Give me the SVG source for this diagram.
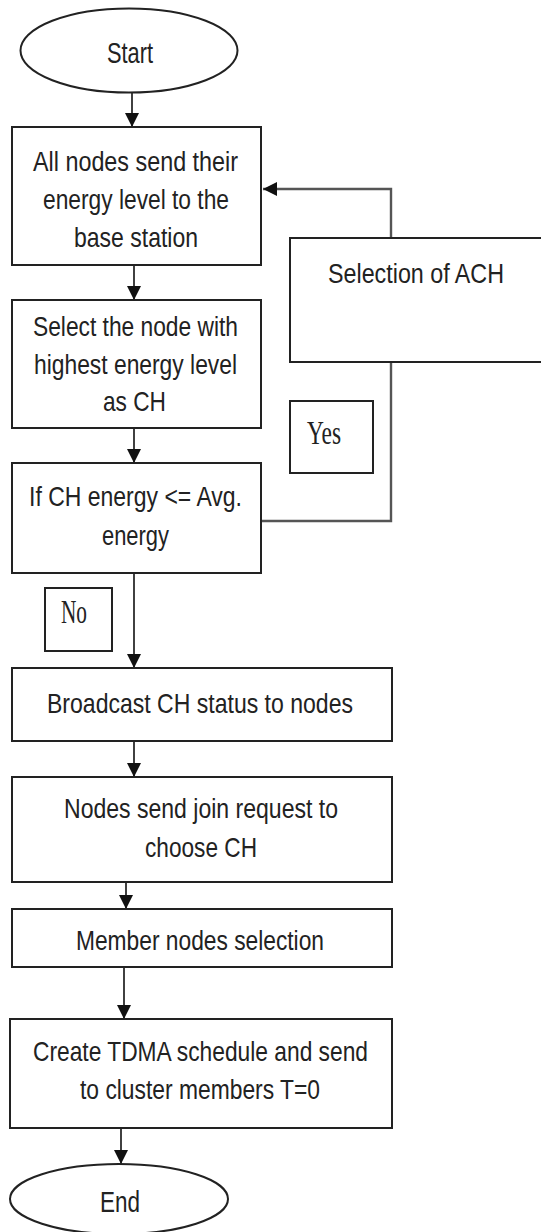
<svg xmlns="http://www.w3.org/2000/svg" width="541" height="1232" viewBox="0 0 541 1232">
<defs>
<marker id="ah" markerUnits="userSpaceOnUse" markerWidth="14" markerHeight="14" viewBox="0 0 14 14" refX="14" refY="7" orient="auto">
<path d="M0,0 L14,7 L0,14 Z" fill="#111"/>
</marker>
</defs>
<style>
.box{fill:#fff;stroke:#222;stroke-width:2}
.t{font-family:"Liberation Sans",Arial,sans-serif;font-size:27.5px;fill:#222}
.s{font-family:"Liberation Serif","Times New Roman",serif;font-size:33px;fill:#222}
.c{fill:none;stroke:#111;stroke-width:1.6}
.loop{fill:none;stroke:#555;stroke-width:2.4}
</style>
<rect width="541" height="1232" fill="#fff"/>
<g id="connectors">
<line class="c" x1="132" y1="93" x2="132" y2="127" marker-end="url(#ah)"/>
<line class="c" x1="134" y1="265" x2="134" y2="300" marker-end="url(#ah)"/>
<line class="c" x1="134" y1="428" x2="134" y2="463" marker-end="url(#ah)"/>
<line class="c" x1="134" y1="573" x2="134" y2="668" marker-end="url(#ah)"/>
<line class="c" x1="134" y1="741" x2="134" y2="777" marker-end="url(#ah)"/>
<line class="c" x1="126" y1="882" x2="126" y2="909" marker-end="url(#ah)"/>
<line class="c" x1="124" y1="967" x2="124" y2="1019" marker-end="url(#ah)"/>
<line class="c" x1="121" y1="1128" x2="121" y2="1164" marker-end="url(#ah)"/>
<polyline class="loop" points="262,521 391,521 391,362"/>
<polyline class="loop" points="391,238 391,189 263,189" marker-end="url(#ah)"/>
</g>
<g id="start">
<ellipse cx="129" cy="50.5" rx="108.5" ry="42" fill="#fff" stroke="#222" stroke-width="2"/>
<text x="130" y="63" text-anchor="middle" font-family="Liberation Sans, Arial, sans-serif" font-size="30" fill="#222" textLength="46" lengthAdjust="spacingAndGlyphs">Start</text>
</g>
<g id="n1">
<rect class="box" x="12" y="127" width="249" height="138"/>
<text class="t" x="33" y="171" textLength="205" lengthAdjust="spacingAndGlyphs">All nodes send their</text>
<text class="t" x="43" y="209" textLength="186" lengthAdjust="spacingAndGlyphs">energy level to the</text>
<text class="t" x="74" y="247" textLength="124" lengthAdjust="spacingAndGlyphs">base station</text>
</g>
<g id="ach">
<rect class="box" x="290" y="238" width="260" height="124"/>
<text class="t" x="328" y="283" textLength="176" lengthAdjust="spacingAndGlyphs">Selection of ACH</text>
</g>
<g id="n2">
<rect class="box" x="12" y="300" width="249" height="128"/>
<text class="t" x="33" y="336" textLength="205" lengthAdjust="spacingAndGlyphs">Select the node with</text>
<text class="t" x="34" y="374" textLength="203" lengthAdjust="spacingAndGlyphs">highest energy level</text>
<text class="t" x="103" y="411" textLength="63" lengthAdjust="spacingAndGlyphs">as CH</text>
</g>
<g id="yes">
<rect class="box" x="290" y="401" width="83" height="72"/>
<text class="s" x="307" y="444" textLength="34" lengthAdjust="spacingAndGlyphs">Yes</text>
</g>
<g id="decision">
<rect class="box" x="12" y="463" width="249" height="110"/>
<text class="t" x="29" y="506" textLength="213" lengthAdjust="spacingAndGlyphs">If CH energy &lt;= Avg.</text>
<text class="t" x="102" y="545" textLength="67" lengthAdjust="spacingAndGlyphs">energy</text>
</g>
<g id="no">
<rect class="box" x="45" y="588" width="67" height="63"/>
<text class="s" x="61" y="623" textLength="26" lengthAdjust="spacingAndGlyphs">No</text>
</g>
<g id="broadcast">
<rect class="box" x="12" y="668" width="380" height="73"/>
<text class="t" x="47" y="713" textLength="306" lengthAdjust="spacingAndGlyphs">Broadcast CH status to nodes</text>
</g>
<g id="join">
<rect class="box" x="12" y="777" width="380" height="105"/>
<text class="t" x="64" y="818" textLength="274" lengthAdjust="spacingAndGlyphs">Nodes send join request to</text>
<text class="t" x="145" y="857" textLength="112" lengthAdjust="spacingAndGlyphs">choose CH</text>
</g>
<g id="member">
<rect class="box" x="12" y="909" width="380" height="58"/>
<text class="t" x="76" y="950" textLength="248" lengthAdjust="spacingAndGlyphs">Member nodes selection</text>
</g>
<g id="tdma">
<rect class="box" x="10" y="1019" width="382" height="109"/>
<text class="t" x="33" y="1061" textLength="335" lengthAdjust="spacingAndGlyphs">Create TDMA schedule and send</text>
<text class="t" x="80" y="1099" textLength="240" lengthAdjust="spacingAndGlyphs">to cluster members T=0</text>
</g>
<g id="end">
<ellipse cx="119" cy="1199" rx="109" ry="35" fill="#fff" stroke="#222" stroke-width="2"/>
<text x="120" y="1212" text-anchor="middle" font-family="Liberation Sans, Arial, sans-serif" font-size="30" fill="#222" textLength="40" lengthAdjust="spacingAndGlyphs">End</text>
</g>
</svg>
